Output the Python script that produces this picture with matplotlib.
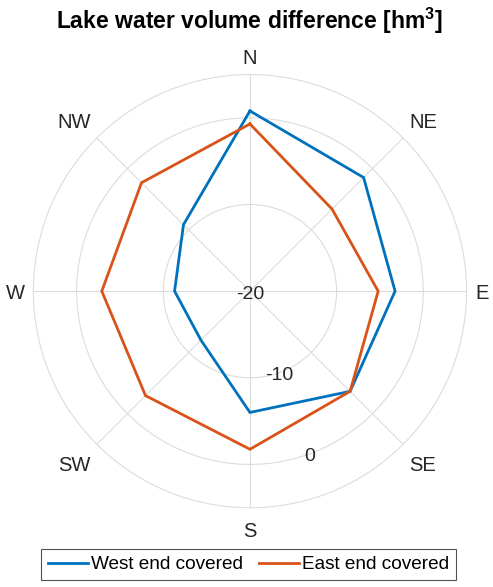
import numpy as np
import matplotlib
matplotlib.use("Agg")
import matplotlib.pyplot as plt
from matplotlib.transforms import offset_copy

plt.rcParams['font.family'] = ['Liberation Sans', 'DejaVu Sans']
plt.rcParams['mathtext.fontset'] = 'custom'
plt.rcParams['mathtext.rm'] = 'Liberation Sans'
plt.rcParams['mathtext.bf'] = 'Liberation Sans:bold'

directions = ['N', 'NE', 'E', 'SE', 'S', 'SW', 'W', 'NW']
west_covered = [0.8, -1.45, -3.25, -3.65, -6.0, -12.0, -11.3, -9.15]
east_covered = [-0.7, -6.6, -5.2, -3.65, -1.75, -2.95, -2.9, -2.3]
series_names = ['West end covered', 'East end covered']
r_ticks = [-20, -10, 0]
r_limits = (-20, 5)

colors = ['#0072BD', '#D95319']
txt = '#262626'

fig = plt.figure(figsize=(4.93, 5.87), dpi=100)
ax = fig.add_axes([0.0675, 0.135, 0.879, 0.738], projection='polar')
ax.set_theta_zero_location('N')
ax.set_theta_direction(-1)

theta = np.deg2rad(np.arange(len(directions)) * 45.0)
th_closed = np.append(theta, theta[0])
handles = []
for vals, c, name in zip([west_covered, east_covered], colors, series_names):
    v = np.append(vals, vals[0])
    h, = ax.plot(th_closed, v, color=c, lw=2.0, label=name, solid_joinstyle='miter')
    handles.append(h)

ax.set_ylim(*r_limits)
ax.set_yticks(r_ticks)
ax.set_yticklabels([])
label_angle = np.deg2rad(160)
rtrans = offset_copy(ax.transData, fig=fig, x=0, y=-3.0, units='dots')
for t in r_ticks:
    ax.text(label_angle, t, str(t), ha='center', va='center', fontsize=14,
            color=txt, zorder=5, transform=rtrans)

ax.set_xticks(theta)
ax.set_xticklabels([])
ax.tick_params(axis='x', length=0)
# direction labels: anchored just outside the outer circle, aligned like MATLAB
gap_px = 8.5
for th, lab in zip(theta, directions):
    s, c = np.sin(th), np.cos(th)
    ha = 'left' if s > 0.1 else ('right' if s < -0.1 else 'center')
    va = 'bottom' if c > 0.1 else ('top' if c < -0.1 else 'center_baseline')
    dy = gap_px * c
    if c < -0.1:
        dy -= 6
    elif c > 0.9:
        dy -= 2
    tr = offset_copy(ax.transData, fig=fig, x=gap_px * s, y=dy, units='dots')
    ax.text(th, r_limits[1], lab, ha=ha, va=va, fontsize=14.5, color=txt,
            clip_on=False, transform=tr)

ax.grid(True, color='#dcdcdc', lw=0.8)
ax.spines['polar'].set_color('#dcdcdc')
ax.spines['polar'].set_linewidth(0.8)

fig.text(0.505, 0.965, r'Lake water volume difference [hm$^{\mathbf{3}}$]',
         ha='center', va='center', fontsize=16.5, fontweight='bold', color='black')

leg = fig.legend(handles=handles, loc='center', bbox_to_anchor=(0.5045, 0.038),
                 ncol=2, fontsize=13.7, frameon=True, fancybox=False,
                 edgecolor='#262626', handlelength=2.1, handletextpad=0.17,
                 columnspacing=0.84, borderpad=0.35, borderaxespad=0)
leg.get_frame().set_linewidth(0.8)

fig.savefig('out.png', dpi=100)
